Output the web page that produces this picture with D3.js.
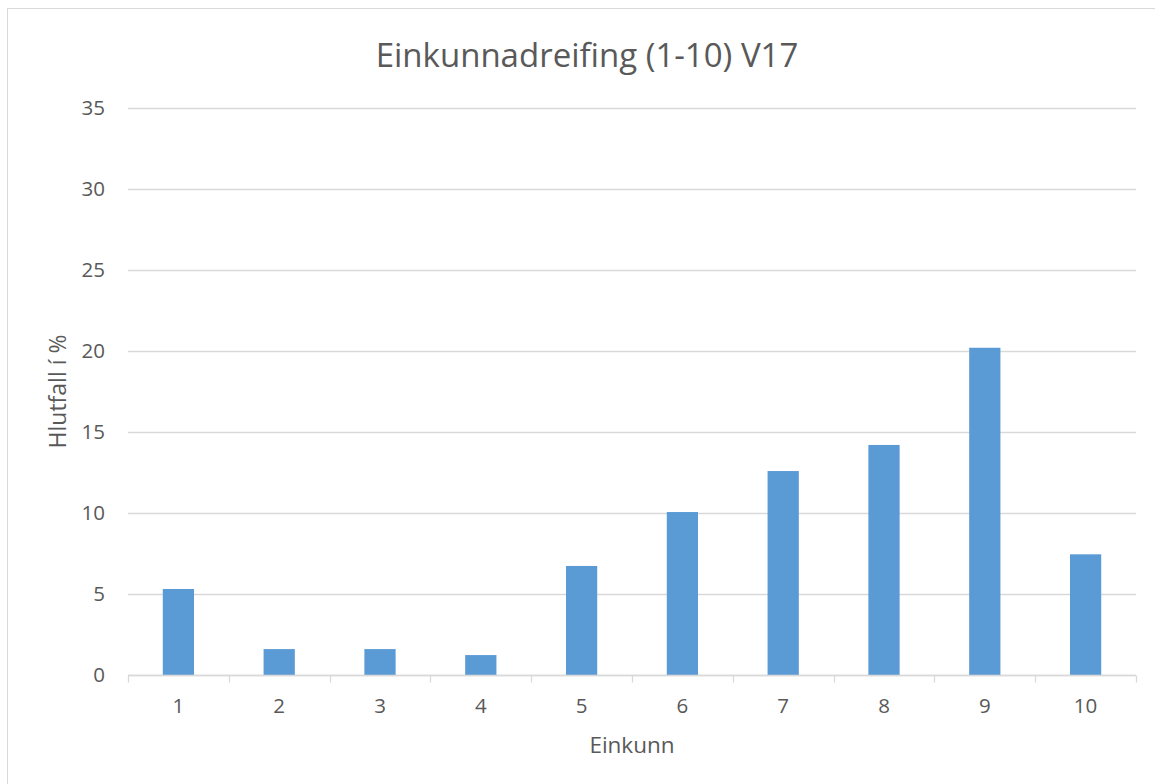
<!DOCTYPE html>
<html>
<head>
<meta charset="utf-8">
<script src="https://cdn.jsdelivr.net/npm/d3@7"></script>
<style>
  body { margin: 0; background: #fff; }
  text { font-family: "Open Sans", "Liberation Sans", sans-serif; fill: #595959; }
</style>
</head>
<body>
<div id="chart"></div>
<script>
// data
var categories = ["1", "2", "3", "4", "5", "6", "7", "8", "9", "10"];
var values = [5.31, 1.6, 1.6, 1.23, 6.73, 10.06, 12.59, 14.2, 20.2, 7.45];
var yTicks = [0, 5, 10, 15, 20, 25, 30, 35];

var width = 1155, height = 784;
var margin = {top: 108, right: 19, bottom: 109, left: 128};

var svg = d3.select("#chart").append("svg")
    .attr("width", width).attr("height", height);

// chart frame
svg.append("rect")
    .attr("x", 7.5).attr("y", 8.5)
    .attr("width", width).attr("height", height)
    .attr("fill", "none").attr("stroke", "#d9d9d9");

var x = d3.scaleBand().domain(categories)
    .range([margin.left, width - margin.right])
    .paddingInner(0.69).paddingOuter(0.345);
var xEdge = d3.scaleBand().domain(categories)
    .range([margin.left, width - margin.right]);
var y = d3.scaleLinear().domain([0, 35])
    .range([height - margin.bottom, margin.top]);

// gridlines
svg.append("g").selectAll("line").data(yTicks).enter().append("line")
    .attr("x1", margin.left).attr("x2", width - margin.right)
    .attr("y1", function(d){ return Math.round(y(d)) + 0.5; })
    .attr("y2", function(d){ return Math.round(y(d)) + 0.5; })
    .attr("stroke", "#d9d9d9").attr("stroke-width", 1.3);

// y labels
svg.append("g").selectAll("text").data(yTicks).enter().append("text")
    .attr("x", 105).attr("y", function(d){ return y(d); })
    .attr("dy", "0.36em").attr("text-anchor", "end")
    .style("font-size", "20.5px")
    .text(function(d){ return d; });

// bars
svg.append("g").selectAll("rect").data(values).enter().append("rect")
    .attr("x", function(d, i){ return x(categories[i]); })
    .attr("width", x.bandwidth())
    .attr("y", function(d){ return y(d); })
    .attr("height", function(d){ return y(0) - y(d); })
    .attr("fill", "#5b9bd5");

// x axis line + ticks between categories
var axisY = Math.round(y(0)) + 0.5;
svg.append("line")
    .attr("x1", margin.left).attr("x2", width - margin.right)
    .attr("y1", axisY).attr("y2", axisY)
    .attr("stroke", "#d9d9d9").attr("stroke-width", 1.3);
var edges = categories.map(function(c){ return xEdge(c); });
edges.push(width - margin.right);
svg.append("g").selectAll("line").data(edges).enter().append("line")
    .attr("x1", function(d){ return Math.round(d) + 0.5; })
    .attr("x2", function(d){ return Math.round(d) + 0.5; })
    .attr("y1", axisY).attr("y2", axisY + 7)
    .attr("stroke", "#d9d9d9").attr("stroke-width", 1.3);

// x labels
svg.append("g").selectAll("text").data(categories).enter().append("text")
    .attr("x", function(d){ return x(d) + x.bandwidth() / 2; })
    .attr("y", 713)
    .attr("text-anchor", "middle")
    .style("font-size", "20.5px")
    .text(function(d){ return d; });

// title
svg.append("text")
    .attr("x", 587).attr("y", 67)
    .attr("text-anchor", "middle")
    .style("font-size", "33px")
    .text("Einkunnadreifing (1-10) V17");

// axis titles
svg.append("text")
    .attr("x", (margin.left + width - margin.right) / 2).attr("y", 753)
    .attr("text-anchor", "middle")
    .style("font-size", "22.5px")
    .text("Einkunn");

svg.append("text")
    .attr("transform", "translate(66," + (margin.top + (height - margin.bottom)) / 2 + ") rotate(-90)")
    .attr("text-anchor", "middle")
    .style("font-size", "23px")
    .text("Hlutfall í %");
</script>
</body>
</html>
